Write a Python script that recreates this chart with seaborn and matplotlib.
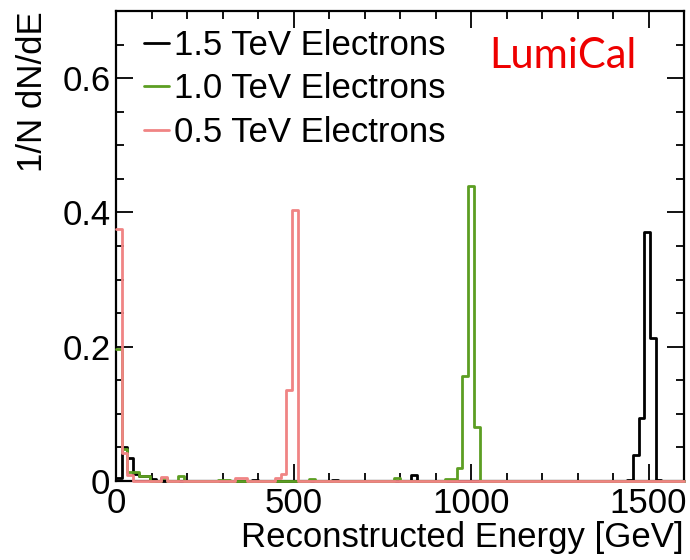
import numpy as np
import matplotlib
matplotlib.use("Agg")
import matplotlib.pyplot as plt
from matplotlib.lines import Line2D
from matplotlib.ticker import MultipleLocator, FixedLocator, FuncFormatter
import seaborn as sns

# Normalised energy spectra, 16 GeV bins between 0 and 1600 GeV.
# Only non-empty bins are listed (lower bin edge in GeV, 1/N dN/dE).
black_bins = [0, 16, 32, 48, 64, 80, 96, 384, 608, 832, 1440, 1456, 1472, 1488, 1504, 1520]
black_vals = [0.004, 0.051, 0.034, 0.011, 0.0075, 0.0075, 0.003, 0.002, 0.002, 0.009,
              0.002, 0.039, 0.094, 0.371, 0.213, 0.002]

green_bins = [0, 16, 32, 48, 64, 80, 128, 176, 288, 304, 544, 784, 928, 944, 960, 976, 992, 1008]
green_vals = [0.196, 0.048, 0.013, 0.013, 0.008, 0.008, 0.004, 0.007, 0.002, 0.002,
              0.003, 0.004, 0.003, 0.003, 0.020, 0.157, 0.440, 0.081]

red_bins = [0, 16, 32, 128, 336, 352, 448, 464, 480, 496]
red_vals = [0.376, 0.042, 0.009, 0.006, 0.004, 0.004, 0.005, 0.010, 0.136, 0.403]

labels = ["1.5 TeV Electrons", "1.0 TeV Electrons", "0.5 TeV Electrons"]
colors = ["#000000", "#5c9e22", "#f08484"]

BIN_WIDTH = 16
E_MAX = 1600

sns.set_style("ticks")
plt.rcParams["font.family"] = ["Liberation Sans", "DejaVu Sans"]
plt.rcParams["text.color"] = "black"
plt.rcParams["axes.labelcolor"] = "black"

fig = plt.figure(figsize=(6.9, 5.6), dpi=100)
ax = fig.add_axes([116 / 690, 1 - 481 / 560, 568 / 690, 470 / 560])

series = [(black_bins, black_vals), (green_bins, green_vals), (red_bins, red_vals)]
for (bins, vals), lab, col in zip(series, labels, colors):
    centers = np.asarray(bins, dtype=float) + BIN_WIDTH / 2
    sns.histplot(x=centers, weights=vals, binwidth=BIN_WIDTH, binrange=(0, E_MAX),
                 element="step", fill=False, color=col, linewidth=2.0,
                 ax=ax, clip_on=False, zorder=3)

ax.set_xlim(0, E_MAX)
ax.set_ylim(0, 0.7)

ax.xaxis.set_major_locator(FixedLocator([0, 500, 1000, 1500]))
ax.xaxis.set_minor_locator(MultipleLocator(100))
ax.yaxis.set_major_locator(FixedLocator([0, 0.2, 0.4, 0.6]))
ax.yaxis.set_minor_locator(MultipleLocator(0.05))
ax.yaxis.set_major_formatter(FuncFormatter(lambda v, p: "0" if abs(v) < 1e-9 else f"{v:.1f}"))

ax.tick_params(which="both", direction="in", top=True, right=True,
               labelsize=25, color="black", labelcolor="black")
ax.tick_params(which="major", length=12, width=1.3, pad=4)
ax.tick_params(which="minor", length=6, width=1.3)
for sp in ax.spines.values():
    sp.set_linewidth(1.6)
    sp.set_color("black")

ax.set_xlabel("Reconstructed Energy [GeV]", fontsize=25, loc="right", color="black")
ax.set_ylabel("1/N dN/dE", fontsize=25, loc="top", color="black")
ax.xaxis.set_label_coords(1.0, -0.085)
ax.yaxis.set_label_coords(-0.118, 1.0)

handles = [Line2D([], [], color=c, linewidth=2.0) for c in colors]
leg = ax.legend(handles, labels, loc="upper left", bbox_to_anchor=(0.05, 0.962),
                frameon=False, fontsize=25, handlelength=0.7, handletextpad=0.15,
                labelspacing=0.30, borderpad=0, borderaxespad=0)
for t in leg.get_texts():
    t.set_color("black")

ax.text(0.658, 0.879, "LumiCal", transform=ax.transAxes, color="#ee0000",
        fontsize=30, family=["Lato", "DejaVu Sans"], va="baseline", ha="left")

fig.savefig("out.png", dpi=100)
